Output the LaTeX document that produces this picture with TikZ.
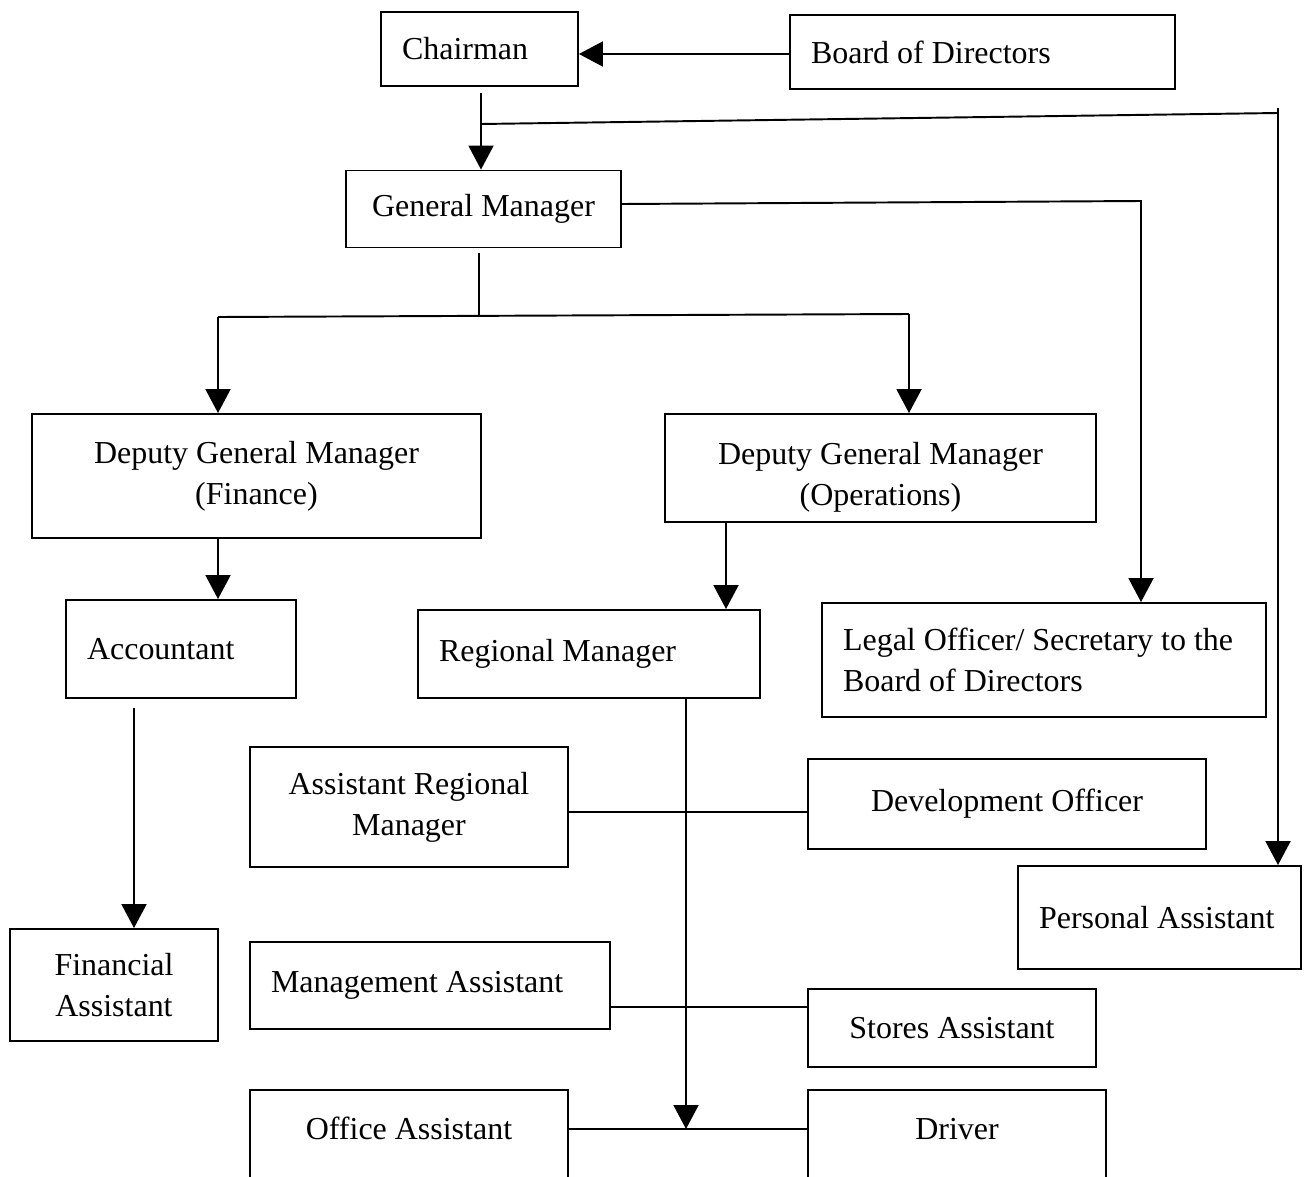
\documentclass[tikz,border=0pt]{standalone}
\usepackage{fontspec}
\setmainfont{Liberation Serif}
\usetikzlibrary{arrows.meta}

\begin{document}
\begin{tikzpicture} [x=0.02cm, y=-0.02cm, >={Triangle[length=0.48cm, width=0.5cm]},
		post/.style={draw, line width=1.1pt, rectangle, inner sep=0pt, align=center,
			font=\fontsize{18.2}{23.3}\selectfont},
		lpost/.style={post, align=flush left, inner xsep=0.42cm},
		link/.style={line width=1.1pt}]
		%\draw [thin, help lines] (0,0) grid (1307,1176);
		\useasboundingbox (0,0) rectangle (1307,1176);
		\clip (0,0) rectangle (1307,1176);
		% top
		\node[lpost, minimum width=3.94cm, minimum height=1.48cm, text width=3.1cm] (chair) at (479.5,49) {Chairman};
		\node[lpost, minimum width=7.7cm, minimum height=1.48cm, text width=6.86cm] (board) at (982.5,52) {Board of Directors};
		\node[post, minimum width=5.5cm, minimum height=1.54cm] (gm) at (483.5,209) {General Manager};
		% deputies
		\node[post, minimum width=8.98cm, minimum height=2.48cm] (dgmf) at (256.5,476) {Deputy General Manager\\(Finance)};
		\node[post, minimum width=8.62cm, minimum height=2.16cm] (dgmo) at (880.5,468) {\rule{0pt}{0.8cm}Deputy General Manager\\(Operations)};
		% middle row
		\node[lpost, minimum width=4.6cm, minimum height=1.96cm, text width=3.76cm] (acc) at (181,649) {Accountant};
		\node[lpost, minimum width=6.84cm, minimum height=1.76cm, text width=6.0cm] (rm) at (589,654) {Regional Manager};
		\node[lpost, minimum width=8.88cm, minimum height=2.28cm, text width=8.04cm] (legal) at (1044,660) {Legal Officer/ Secretary to the\\Board of Directors};
		% lower rows
		\node[post, minimum width=4.16cm, minimum height=2.24cm] (finass) at (114,985) {Financial\\Assistant};
		\node[post, minimum width=6.36cm, minimum height=2.4cm] (arm) at (409,807) {Assistant Regional\\Manager};
		\node[post, minimum width=7.96cm, minimum height=1.8cm] (dev) at (1007,804) {Development Officer};
		\node[lpost, minimum width=5.66cm, minimum height=2.06cm, text width=4.82cm] (pa) at (1159.5,917.5) {Personal Assistant};
		\node[lpost, minimum width=7.2cm, minimum height=1.74cm, text width=6.36cm] (ma) at (430,985.5) {Management Assistant};
		\node[post, minimum width=5.76cm, minimum height=1.56cm] (sa) at (952,1028) {Stores Assistant};
		\node[post, anchor=north, minimum width=6.36cm, text height=1cm, text depth=1.6cm] (oa) at (409,1089) {Office Assistant};
		\node[post, anchor=north, minimum width=5.96cm, text height=1cm, text depth=1.6cm] (driver) at (957,1089) {Driver};
		% joints
		\coordinate (tapchair) at (481,124);
		\coordinate (tappa) at (1278,113);
		\coordinate (turnlegal) at (1141,201);
		\coordinate (split) at (479,315);
		\coordinate (splitl) at (218,317);
		\coordinate (splitr) at (909,314);
		\coordinate (colrm) at (726,0);
		\coordinate (colfa) at (134,0);
		\coordinate (lowrow) at (686,1129);
		\coordinate (midrow) at (686,1007);
		\coordinate (uprow) at (686,812);
		% lines
		\draw[link, ->] (board.west |- 0,54) -- (chair.east |- 0,54);
		\draw[link, ->] ([yshift=-0.12cm]chair.south -| tapchair) -- (gm.north -| tapchair);
		\draw[link] (tapchair) -- (tappa);
		\draw[link, ->] ([yshift=0.1cm]tappa) -- (tappa |- pa.north);
		\draw[link, ->] (gm.east |- 0,204) -- (turnlegal) -- (turnlegal |- legal.north);
		\draw[link] ([yshift=-0.1cm]gm.south -| split) -- (split);
		\draw[link] (splitl) -- (splitr);
		\draw[link, ->] (splitl) -- (splitl |- dgmf.north);
		\draw[link, ->] (splitr) -- (splitr |- dgmo.north);
		\draw[link, ->] (dgmf.south -| splitl) -- (acc.north -| splitl);
		\draw[link, ->] (dgmo.south -| colrm) -- (rm.north -| colrm);
		\draw[link, ->] ([yshift=-0.18cm]acc.south -| colfa) -- (finass.north -| colfa);
		\draw[link, ->] (rm.south -| lowrow) -- (lowrow);
		\draw[link] (arm.east |- uprow) -- (dev.west |- uprow);
		\draw[link] (ma.east |- midrow) -- (sa.west |- midrow);
		\draw[link] (oa.east |- lowrow) -- (driver.west |- lowrow);
	\end{tikzpicture}
\end{document}
